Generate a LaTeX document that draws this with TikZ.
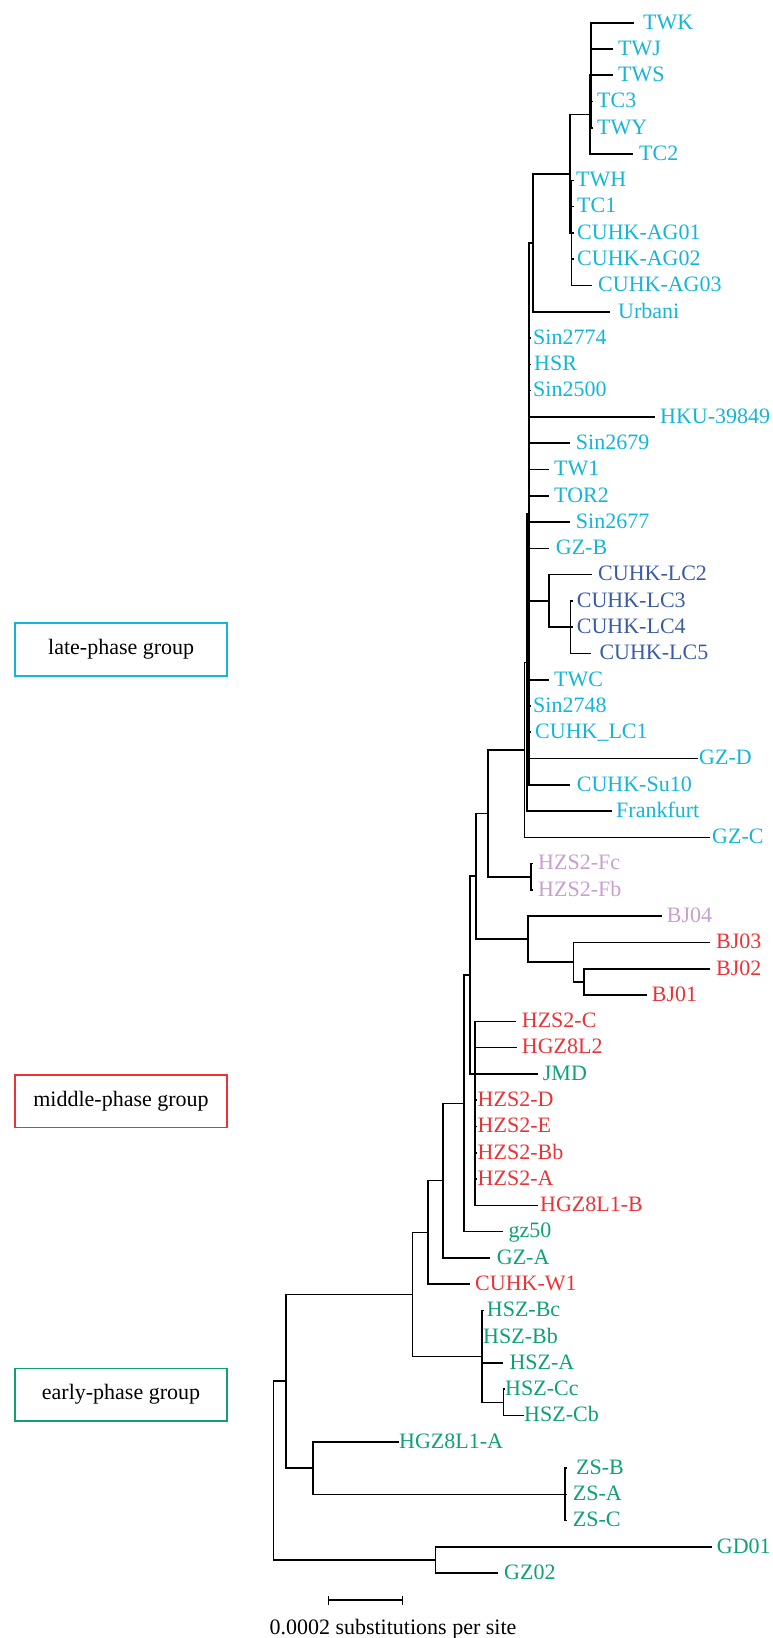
\documentclass[tikz,border=0pt]{standalone}
\usepackage{fontspec}
\setmainfont{Liberation Serif}
\usetikzlibrary{arrows.meta}
\definecolor{cy}{RGB}{20,182,216}
\definecolor{db}{RGB}{58,91,168}
\definecolor{li}{RGB}{200,160,205}
\definecolor{rd}{RGB}{235,50,55}
\definecolor{gr}{RGB}{15,160,120}
\newcommand\leaf[6]{%
  \coordinate (#1) at (#3,#2);
  \node[lab,text=#5] (#1-t) at (#4,#2) {#6};}
\begin{document}
\begin{tikzpicture}[x=1pt,y=-1pt,
  br/.style={line width=1.6pt},
  lab/.style={anchor=base west, yshift=-6.3pt, inner sep=0pt, font=\fontsize{22}{26}\selectfont},
  grp/.style={draw, line width=1.5pt, minimum width=212pt, minimum height=53pt, inner sep=0pt, font=\fontsize{22}{26}\selectfont, text=black}]
\useasboundingbox (0,0) rectangle (773,1638);
\begin{scope}[y=-26.28pt, yshift=-22.7pt]
% internal nodes
\coordinate (Ca) at (591,2);
\coordinate (Cn) at (590,3.5);
\coordinate (M2) at (571.5,8);
\coordinate (M1) at (570,5.75);
\coordinate (N533) at (533,8.375);
\coordinate (LC345) at (570.5,23);
\coordinate (LC) at (549,22);
\coordinate (B) at (528.7,18.6875);
\coordinate (Q) at (527.2,24.34375);
\coordinate (P) at (524.5,27.671875);
\coordinate (F) at (531,32.5);
\coordinate (X) at (487.7,30.0859);
\coordinate (Z) at (584,36.5);
\coordinate (Y) at (573.3,35.75);
\coordinate (BJ) at (527.7,34.875);
\coordinate (T) at (475.7,32.48);
\coordinate (H) at (474.7,40);
\coordinate (S) at (470,36.24);
\coordinate (N464) at (464,41.12);
\coordinate (N442) at (442.7,44.06);
\coordinate (N427) at (427.7,46.03);
\coordinate (Hcc) at (503.3,52.5);
\coordinate (HSZ) at (481.7,50.75);
\coordinate (N412) at (412.3,48.39);
\coordinate (ZS) at (565,56);
\coordinate (N312) at (312.7,55);
\coordinate (N285) at (285.7,51.695);
\coordinate (Ngd) at (435.3,58.5);
\coordinate (root) at (273.3,55.0975);
% leaves
\leaf{TWK}{0}{634}{643}{cy}{TWK}
\leaf{TWJ}{1}{613}{618}{cy}{TWJ}
\leaf{TWS}{2}{613}{618}{cy}{TWS}
\leaf{TCthree}{3}{593}{597}{cy}{TC3}
\leaf{TWY}{4}{593}{597}{cy}{TWY}
\leaf{TCtwo}{5}{633}{639}{cy}{TC2}
\leaf{TWH}{6}{573.5}{576}{cy}{TWH}
\leaf{TCone}{7}{573.5}{577}{cy}{TC1}
\leaf{AGa}{8}{573.5}{577}{cy}{CUHK-AG01}
\leaf{AGb}{9}{573.5}{577}{cy}{CUHK-AG02}
\leaf{AGc}{10}{591.7}{598}{cy}{CUHK-AG03}
\leaf{Urbani}{11}{610}{618}{cy}{Urbani}
\leaf{SinA}{12}{530.7}{533}{cy}{Sin2774}
\leaf{HSR}{13}{530.7}{534}{cy}{HSR}
\leaf{SinB}{14}{530.7}{533}{cy}{Sin2500}
\leaf{HKU}{15}{655}{660}{cy}{HKU-39849}
\leaf{SinC}{16}{570}{575.7}{cy}{Sin2679}
\leaf{TWone}{17}{549}{554}{cy}{TW1}
\leaf{TOR}{18}{549}{554}{cy}{TOR2}
\leaf{SinD}{19}{570}{575.7}{cy}{Sin2677}
\leaf{GZB}{20}{549}{555.7}{cy}{GZ-B}
\leaf{LCtwo}{21}{591.7}{598}{db}{CUHK-LC2}
\leaf{LCthree}{22}{572.5}{576.7}{db}{CUHK-LC3}
\leaf{LCfour}{23}{572.5}{576.7}{db}{CUHK-LC4}
\leaf{LCfive}{24}{590.7}{599.3}{db}{CUHK-LC5}
\leaf{TWC}{25}{549.3}{554}{cy}{TWC}
\leaf{SinE}{26}{530.7}{533}{cy}{Sin2748}
\leaf{LCone}{27}{530.7}{535}{cy}{CUHK\_LC1}
\leaf{GZD}{28}{698}{699}{cy}{GZ-D}
\leaf{Suten}{29}{570}{576.7}{cy}{CUHK-Su10}
\leaf{Frankfurt}{30}{612.3}{616}{cy}{Frankfurt}
\leaf{GZC}{31}{710}{712}{cy}{GZ-C}
\leaf{Fc}{32}{533}{538}{li}{HZS2-Fc}
\leaf{Fb}{33}{533}{538}{li}{HZS2-Fb}
\leaf{BJfour}{34}{661.7}{666.7}{li}{BJ04}
\leaf{BJthree}{35}{710}{716}{rd}{BJ03}
\leaf{BJtwo}{36}{710}{716}{rd}{BJ02}
\leaf{BJone}{37}{646.7}{651.7}{rd}{BJ01}
\leaf{HZSC}{38}{515.7}{521.7}{rd}{HZS2-C}
\leaf{HGZLtwo}{39}{516.7}{521.7}{rd}{HGZ8L2}
\leaf{JMD}{40}{538.3}{542.7}{gr}{JMD}
\leaf{HZSD}{41}{476.5}{477.5}{rd}{HZS2-D}
\leaf{HZSE}{42}{476.5}{477.5}{rd}{HZS2-E}
\leaf{HZSBb}{43}{476.5}{477.5}{rd}{HZS2-Bb}
\leaf{HZSA}{44}{476.5}{477.5}{rd}{HZS2-A}
\leaf{HGZLB}{45}{538.3}{540}{rd}{HGZ8L1-B}
\leaf{gzfifty}{46}{502.7}{508.3}{gr}{gz50}
\leaf{GZA}{47}{490}{496.7}{gr}{GZ-A}
\leaf{CUHKW}{48}{470}{475}{rd}{CUHK-W1}
\leaf{HSZBc}{49}{483.7}{486.7}{gr}{HSZ-Bc}
\leaf{HSZBb}{50}{482.5}{483}{gr}{HSZ-Bb}
\leaf{HSZA}{51}{502.7}{509.3}{gr}{HSZ-A}
\leaf{HSZCc}{52}{504.8}{505}{gr}{HSZ-Cc}
\leaf{HSZCb}{53}{524}{524}{gr}{HSZ-Cb}
\leaf{HGZLA}{54}{399}{399}{gr}{HGZ8L1-A}
\leaf{ZSB}{55}{567}{576}{gr}{ZS-B}
\leaf{ZSA}{56}{567}{572.7}{gr}{ZS-A}
\leaf{ZSC}{57}{567}{572.7}{gr}{ZS-C}
\leaf{GDone}{58}{711.7}{716.7}{gr}{GD01}
\leaf{GZtwo}{59}{498.3}{504}{gr}{GZ02}
% branches
\foreach \p/\c in {Ca/TWK,Ca/TWJ,Ca/TWS,Ca/TCthree,Ca/TWY,
  Cn/Ca,Cn/TCtwo,
  M2/TWH,M2/TCone,M2/AGa,M2/AGb,M2/AGc,
  M1/Cn,M1/M2,
  N533/M1,N533/Urbani,
  B/N533,B/SinA,B/HSR,B/SinB,B/HKU,B/SinC,B/TWone,B/TOR,B/SinD,B/GZB,B/LC,B/TWC,B/SinE,B/LCone,B/GZD,B/Suten,
  LC/LCtwo,LC/LC345,
  LC345/LCthree,LC345/LCfour,LC345/LCfive,
  Q/B,Q/Frankfurt,
  P/Q,P/GZC,
  F/Fc,F/Fb,
  X/P,X/F,
  Z/BJtwo,Z/BJone,
  Y/BJthree,Y/Z,
  BJ/BJfour,BJ/Y,
  T/X,T/BJ,
  H/HZSC,H/HGZLtwo,H/HZSD,H/HZSE,H/HZSBb,H/HZSA,H/HGZLB,
  S/T,S/H,S/JMD,
  N464/S,N464/gzfifty,
  N442/N464,N442/GZA,
  N427/N442,N427/CUHKW,
  Hcc/HSZCc,Hcc/HSZCb,
  HSZ/HSZBc,HSZ/HSZBb,HSZ/HSZA,HSZ/Hcc,
  N412/N427,N412/HSZ,
  ZS/ZSB,ZS/ZSA,ZS/ZSC,
  N312/HGZLA,N312/ZS,
  N285/N412,N285/N312,
  Ngd/GDone,Ngd/GZtwo,
  root/N285,root/Ngd}
  \draw[br] (\p) |- (\c);
\end{scope}
% group boxes
\node[grp, draw=cy] (late) at (121.2,649.3) {late-phase group};
\node[grp, draw=rd, minimum height=52.3pt] (middle) at (121,1101.2) {middle-phase group};
\node[grp, draw=gr, minimum height=52.7pt] (early) at (121,1394.7) {early-phase group};
% scale bar
\coordinate (sbL) at (327.7,1600);
\coordinate (sbR) at (403.3,1600);
\draw[line width=1.4pt, {Bar[width=9pt]}-{Bar[width=9pt]}] (sbL) -- (sbR);
\node[lab, yshift=6.3pt] (sbtext) at (269.3,1634) {0.0002 substitutions per site};
\end{tikzpicture}
\end{document}
